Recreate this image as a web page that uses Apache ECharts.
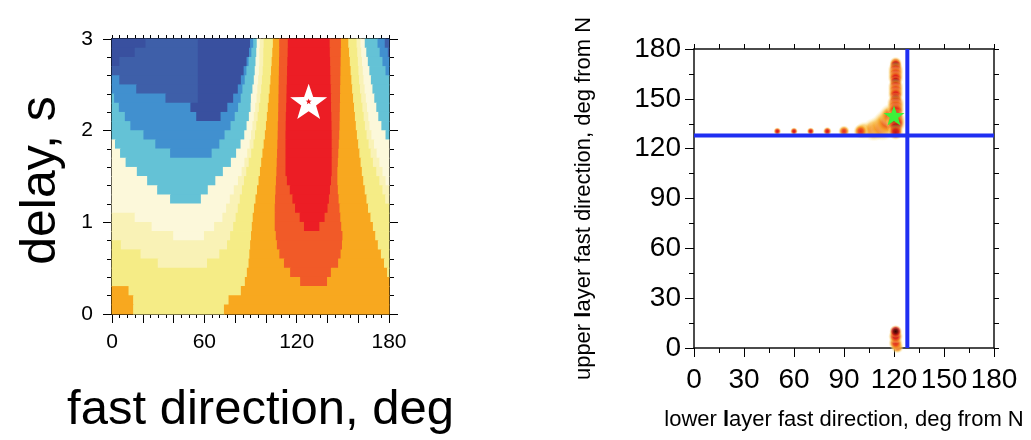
<!DOCTYPE html>
<html>
<head>
<meta charset="utf-8">
<script src="https://cdn.jsdelivr.net/npm/echarts@6/dist/echarts.min.js"></script>
<style>
  html, body { margin: 0; padding: 0; background: #fff; }
  #c { width: 1031px; height: 440px; }
</style>
</head>
<body>
<div id="c"></div>
<script>
const FONT = '"Liberation Sans", Arial, Helvetica, sans-serif';

// ---------- Left panel: splitting-parameter grid search ----------
// Each delay row (centre, seconds) is a run list [level, end deg, level, end deg, ...] starting at 0 deg.
const rowHeight = 0.1;
const delayRows = [2.95, 2.85, 2.75, 2.65, 2.55, 2.45, 2.35, 2.25, 2.15, 2.05,
                   1.95, 1.85, 1.75, 1.65, 1.55, 1.45, 1.35, 1.25, 1.15, 1.05,
                   0.95, 0.85, 0.75, 0.65, 0.55, 0.45, 0.35, 0.25, 0.15, 0.05];
const bandRuns = [
  [0,22, 1,56, 0,90, 2,92, 3,94.3, 4,96.3, 5,98.8, 6,104.8, 7,108.9, 8,114.5, 9,141.7, 8,149, 7,153.8, 6,159.2, 5,161.7, 4,164.5, 3,172.8, 2,177.5, 1,180],
  [0,15, 1,56, 0,89.3, 2,90.8, 3,94, 4,96, 5,98.6, 6,104.4, 7,108.9, 8,114.4, 9,141.8, 8,148.9, 7,154.3, 6,159.6, 5,162.2, 4,165.5, 3,174.2, 2,179.5, 1,180],
  [0,5, 1,56, 0,87.7, 2,89, 3,93.5, 4,96, 5,98.5, 6,104, 7,108.8, 8,114.2, 9,142, 8,148.8, 7,154.8, 6,160, 5,162.7, 4,166.5, 3,176, 2,180],
  [1,56, 0,85.8, 2,87.6, 3,93, 4,95.7, 5,98.2, 6,103.6, 7,108.7, 8,114, 9,142.1, 8,148.7, 7,155.3, 6,160.4, 5,163.2, 4,167.5, 3,178, 2,180],
  [2,5, 1,56, 0,84, 2,86.5, 3,92.4, 4,95.2, 5,97.7, 6,103.2, 7,108.6, 8,113.9, 9,142.2, 8,148.6, 7,155.8, 6,160.8, 5,163.7, 4,168.5, 3,180],
  [2,16, 1,56, 0,82, 2,85, 3,91.5, 4,94.7, 5,97.2, 6,102.7, 7,108.5, 8,113.7, 9,142.4, 8,148.5, 7,156.3, 6,161.4, 5,164.4, 4,169.5, 3,180],
  [3,1.6, 2,35, 1,56, 0,79, 2,83.9, 3,90.5, 4,94.2, 5,96.6, 6,102.1, 7,108.4, 8,113.6, 9,142.5, 8,148.4, 7,156.9, 6,162.2, 5,165.2, 4,170.7, 3,180],
  [3,4.7, 2,51.2, 0,75.2, 2,82.2, 3,90.3, 4,93.3, 5,95.7, 6,101.5, 7,108.3, 8,113.4, 9,142.6, 8,148.3, 7,157.5, 6,163, 5,166, 4,172, 3,180],
  [3,8.6, 2,55, 0,70.8, 2,80, 3,89.2, 4,92.4, 5,94.9, 6,100.9, 7,108.2, 8,113.2, 9,142.8, 8,148.2, 7,158.1, 6,163.8, 5,166.8, 4,173.3, 3,180],
  [3,12.2, 2,77.3, 3,87.7, 4,91.5, 5,94, 6,100.3, 7,108, 8,113.1, 9,142.9, 8,148.1, 7,158.7, 6,164.6, 5,167.6, 4,175.3, 3,180],
  [3,20.7, 2,73.4, 3,86.2, 4,90.6, 5,93.2, 6,99.6, 7,107.9, 8,113, 9,143, 8,147.9, 7,159.4, 6,165.7, 5,168.8, 4,178, 3,180],
  [4,2.2, 3,28.4, 2,70, 3,83.8, 4,89.7, 5,92.2, 6,98.8, 7,107.7, 8,113, 9,143, 8,147.6, 7,160.2, 6,167, 5,170.5, 4,180],
  [4,5.5, 3,38, 2,65, 3,80.9, 4,88.1, 5,90.7, 6,98, 7,107.5, 8,113, 9,143, 8,147.3, 7,161, 6,168.3, 5,172.2, 4,180],
  [4,9.1, 3,77.5, 4,86.3, 5,89.1, 6,97.2, 7,107.3, 8,113, 9,143, 8,147, 7,161.8, 6,169.8, 5,174, 4,180],
  [4,16.4, 3,72.3, 4,84.5, 5,87.5, 6,96.4, 7,107.1, 8,113, 9,143, 8,146.7, 7,162.6, 6,172, 5,176, 4,180],
  [4,23.1, 3,67.4, 4,82.1, 5,86, 6,95.5, 7,106.8, 8,113.9, 9,142.6, 8,146.7, 7,163.5, 6,174, 5,178, 4,180],
  [4,29.6, 3,62.5, 4,79.4, 5,84.7, 6,94.5, 7,106.5, 8,115.8, 9,141.9, 8,147, 7,164.5, 6,176, 5,180],
  [4,38, 3,58, 4,76.8, 5,83.3, 6,93.5, 7,106.2, 8,117.5, 9,141.2, 8,147.5, 7,165.6, 6,177.8, 5,180],
  [4,74.4, 5,82, 6,92.5, 7,106, 8,119.2, 9,140.3, 8,148.1, 7,166.6, 6,180],
  [5,15, 4,72, 5,80.6, 6,91.7, 7,106, 8,122.2, 9,138.4, 8,148.6, 7,168.2, 6,180],
  [5,26, 4,66.6, 5,79, 6,91.1, 7,106, 8,125, 9,135, 8,149.2, 7,169.8, 6,180],
  [5,40, 4,60, 5,77, 6,90.6, 7,106.7, 8,150, 7,171.3, 6,180],
  [6,6, 5,75, 6,90, 7,107.4, 8,149.7, 7,173, 6,180],
  [6,18.8, 5,70, 6,89.5, 7,109, 8,148.8, 7,175, 6,180],
  [6,30, 5,62, 6,89, 7,112, 8,147.2, 7,177, 6,180],
  [6,87.9, 7,116, 8,142.5, 7,179, 6,180],
  [6,86.6, 7,122.5, 8,140, 7,180],
  [7,11, 6,84, 7,180],
  [7,14, 6,76, 7,180],
  [7,14, 6,73, 7,180]
];
// contour level fills, lowest to highest
const bandColors = ['#39509f', '#3e5fa9', '#4190cf', '#64c2d6', '#fcf8da',
                    '#f9f2b6', '#f5ec86', '#f8a81f', '#f15a28', '#ec1d25'];
const bestSplit = [127.8, 2.32];          // fast direction (deg), delay (s)

// ---------- Right panel: two-layer model density ----------
// lower-layer direction, upper-layer direction, relative density, spread (px)
const lowerDir = [102, 108, 113, 116, 118,
                  50, 60, 70, 80, 90, 100,
                  121, 121, 121, 121, 121, 121, 121, 121, 121, 121,
                  121, 121, 121, 121, 121, 121, 121, 121,
                  122, 121, 121, 121];
const upperDir = [131, 131.5, 133, 136, 140,
                  130.5, 130.5, 130.5, 130.5, 130.5, 130.5,
                  171.5, 170, 167.5, 165, 162.5, 160, 157.5, 155, 152.5, 150,
                  147.5, 145, 142.5, 140, 137.5, 135, 132.5, 130,
                  0.5, 3, 7, 10];
const density  = [0.5, 0.54, 0.58, 0.6, 0.6,
                  0.72, 0.72, 0.72, 0.72, 0.64, 0.64,
                  0.68, 0.97, 0.72, 0.7, 0.72, 0.97, 0.72, 0.7, 0.72, 0.97,
                  0.72, 0.7, 0.74, 0.97, 0.76, 0.78, 0.97, 0.74,
                  0.6, 0.66, 0.74, 0.97];
const spread   = [18, 24, 28, 28, 24,
                  8, 8, 8, 9, 12, 15,
                  13, 13, 16, 16, 16, 13, 16, 16, 16, 13,
                  18, 18, 18, 15, 20, 20, 14, 16,
                  13, 15, 15, 13];
const bestTwoLayer = [120, 140];
const guideLower = 128;
const guideUpper = 128;

// ---------- helpers ----------
const STAR = 'path://M0,-10L2.35,-3.24L9.51,-3.09L3.8,1.24L5.88,8.09L0,4.1L-5.88,8.09L-3.8,1.24L-9.51,-3.09L-2.35,-3.24Z';

const hotStops = [[0, [255, 255, 255]], [0.25, [251, 231, 154]], [0.45, [246, 166, 35]],
                  [0.65, [227, 36, 27]], [0.85, [138, 12, 8]], [1, [28, 0, 0]]];
function hot(v, a) {
  v = Math.max(0, Math.min(1, v));
  for (let i = 1; i < hotStops.length; i++) {
    if (v <= hotStops[i][0]) {
      const [t0, c0] = hotStops[i - 1], [t1, c1] = hotStops[i];
      const f = (v - t0) / (t1 - t0);
      const c = c0.map((x, k) => Math.round(x + (c1[k] - x) * f));
      return 'rgba(' + c.join(',') + ',' + a + ')';
    }
  }
  return 'rgba(28,0,0,' + a + ')';
}
function heatFill(v) {
  return {
    type: 'radial', x: 0.5, y: 0.5, r: 0.5,
    colorStops: [
      { offset: 0, color: hot(v, 1) },
      { offset: 0.35, color: hot(v * 0.9, 0.95) },
      { offset: 0.6, color: hot(v * 0.72, 0.8) },
      { offset: 0.8, color: hot(v * 0.5, 0.4) },
      { offset: 1, color: hot(v * 0.3, 0) }
    ]
  };
}

const bandCells = [];
delayRows.forEach((d, i) => {
  const runs = bandRuns[i];
  let x0 = 0;
  for (let k = 0; k < runs.length; k += 2) {
    bandCells.push([x0, runs[k + 1], d, runs[k]]);
    x0 = runs[k + 1];
  }
});
const blobs = lowerDir.map((x, i) => [x, upperDir[i], density[i], spread[i]]);

const tickStyle = { color: '#000', width: 1 };
function frameAxis(extra) {
  return Object.assign({
    type: 'value',
    axisLine: { show: true, onZero: false, lineStyle: { color: '#000', width: 2 } },
    splitLine: { show: false },
    minorSplitLine: { show: false },
    axisLabel: { show: false }
  }, extra);
}

const chart = echarts.init(document.getElementById('c'));
chart.setOption({
  animation: false,
  backgroundColor: '#fff',
  grid: [
    { left: 112, top: 39, width: 277, height: 277 },
    { left: 694, top: 49, width: 300, height: 299 }
  ],
  xAxis: [
    frameAxis({
      gridIndex: 0, position: 'bottom', min: 0, max: 180, interval: 20,
      axisTick: { show: true, inside: false, length: 9, lineStyle: tickStyle },
      minorTick: { show: true, splitNumber: 4, length: 4, lineStyle: tickStyle },
      axisLabel: { show: true, fontSize: 21, color: '#000', margin: 18, fontFamily: FONT,
                   formatter: v => (v % 60 === 0 ? String(v) : '') },
      name: 'fast direction, deg', nameLocation: 'middle', nameGap: 72,
      nameTextStyle: { fontSize: 49, color: '#000', fontFamily: FONT, padding: [0, 0, 0, 20] }
    }),
    frameAxis({
      gridIndex: 0, position: 'top', min: 0, max: 180, interval: 20,
      axisTick: { show: true, inside: false, length: 4, lineStyle: tickStyle },
      minorTick: { show: true, splitNumber: 4, length: 4, lineStyle: tickStyle }
    }),
    frameAxis({
      gridIndex: 1, position: 'bottom', min: 0, max: 180, interval: 30,
      axisLine: { show: true, onZero: false, lineStyle: { color: '#111', width: 1.5 } },
      axisTick: { show: true, inside: false, length: 9, lineStyle: tickStyle },
      minorTick: { show: true, splitNumber: 2, length: 5, lineStyle: tickStyle },
      axisLabel: { show: true, fontSize: 28, color: '#000', margin: 18, fontFamily: FONT },
      name: 'lower {b|l}ayer fast direction, deg from N', nameLocation: 'middle', nameGap: 61,
      nameTextStyle: { fontSize: 22, color: '#000', fontFamily: FONT,
                       rich: { b: { fontSize: 22, fontWeight: 'bold', color: '#000', fontFamily: FONT } } }
    }),
    frameAxis({
      gridIndex: 1, position: 'top', min: 0, max: 180, interval: 30,
      axisLine: { show: true, onZero: false, lineStyle: { color: '#111', width: 1.5 } },
      axisTick: { show: true, inside: false, length: 5, lineStyle: tickStyle },
      minorTick: { show: true, splitNumber: 2, length: 5, lineStyle: tickStyle }
    })
  ],
  yAxis: [
    frameAxis({
      gridIndex: 0, position: 'left', min: 0, max: 3, interval: 1,
      axisTick: { show: true, inside: false, length: 9, lineStyle: tickStyle },
      minorTick: { show: true, splitNumber: 5, length: 5, lineStyle: tickStyle },
      axisLabel: { show: true, fontSize: 21, color: '#000', margin: 19, fontFamily: FONT },
      name: 'delay, s', nameLocation: 'middle', nameGap: 46, nameRotate: 90,
      nameTextStyle: { fontSize: 50, color: '#000', fontFamily: FONT, padding: [0, 8, 0, 0] }
    }),
    frameAxis({
      gridIndex: 0, position: 'right', min: 0, max: 3, interval: 1,
      axisTick: { show: true, inside: false, length: 9, lineStyle: tickStyle },
      minorTick: { show: true, splitNumber: 5, length: 5, lineStyle: tickStyle }
    }),
    frameAxis({
      gridIndex: 1, position: 'left', min: 0, max: 180, interval: 30,
      axisLine: { show: true, onZero: false, lineStyle: { color: '#111', width: 1.5 } },
      axisTick: { show: true, inside: false, length: 9, lineStyle: tickStyle },
      minorTick: { show: true, splitNumber: 2, length: 5, lineStyle: tickStyle },
      axisLabel: { show: true, fontSize: 28, color: '#000', margin: 13, fontFamily: FONT },
      name: 'upper {b|l}ayer fast direction, deg from N', nameLocation: 'middle', nameGap: 99, nameRotate: 90,
      nameTextStyle: { fontSize: 22, color: '#000', fontFamily: FONT,
                       rich: { b: { fontSize: 22, fontWeight: 'bold', color: '#000', fontFamily: FONT } } }
    }),
    frameAxis({
      gridIndex: 1, position: 'right', min: 0, max: 180, interval: 30,
      axisLine: { show: true, onZero: false, lineStyle: { color: '#111', width: 1.5 } },
      axisTick: { show: true, inside: false, length: 5, lineStyle: tickStyle },
      minorTick: { show: true, splitNumber: 2, length: 5, lineStyle: tickStyle }
    })
  ],
  series: [
    {
      type: 'custom', xAxisIndex: 0, yAxisIndex: 0, silent: true, z: 1,
      data: bandCells,
      encode: { x: [0, 1], y: 2 },
      renderItem: (params, api) => {
        const x0 = api.value(0), x1 = api.value(1), d = api.value(2);
        const p0 = api.coord([x0, d + rowHeight / 2]);
        const p1 = api.coord([x1, d - rowHeight / 2]);
        return {
          type: 'rect',
          shape: { x: p0[0] - 0.4, y: p0[1] - 0.4, width: p1[0] - p0[0] + 0.8, height: p1[1] - p0[1] + 0.8 },
          style: { fill: bandColors[api.value(3)] }
        };
      }
    },
    {
      type: 'scatter', xAxisIndex: 0, yAxisIndex: 0, silent: true, z: 3,
      data: [bestSplit], symbol: STAR, symbolKeepAspect: true, symbolSize: 37,
      itemStyle: { color: '#ffffff', opacity: 1 }
    },
    {
      type: 'scatter', xAxisIndex: 0, yAxisIndex: 0, silent: true, z: 4,
      data: [bestSplit], symbol: STAR, symbolKeepAspect: true, symbolSize: 6,
      itemStyle: { color: '#e8141c', opacity: 1 }
    },
    {
      type: 'scatter', xAxisIndex: 2, yAxisIndex: 2, silent: true, z: 1,
      data: blobs,
      symbol: 'circle',
      symbolSize: v => v[3],
      itemStyle: { color: p => heatFill(p.value[2]), opacity: 1 }
    },
    {
      type: 'line', xAxisIndex: 2, yAxisIndex: 2, silent: true, z: 2,
      data: [[guideLower, 0], [guideLower, 180]], symbol: 'none',
      lineStyle: { color: '#1f2ef2', width: 4 }
    },
    {
      type: 'line', xAxisIndex: 2, yAxisIndex: 2, silent: true, z: 2,
      data: [[0, guideUpper], [180, guideUpper]], symbol: 'none',
      lineStyle: { color: '#1f2ef2', width: 4 }
    },
    {
      type: 'scatter', xAxisIndex: 2, yAxisIndex: 2, silent: true, z: 5,
      data: [bestTwoLayer], symbol: STAR, symbolKeepAspect: true, symbolSize: 21,
      itemStyle: { color: '#3ef03a', opacity: 1 }
    }
  ]
});
</script>
</body>
</html>
